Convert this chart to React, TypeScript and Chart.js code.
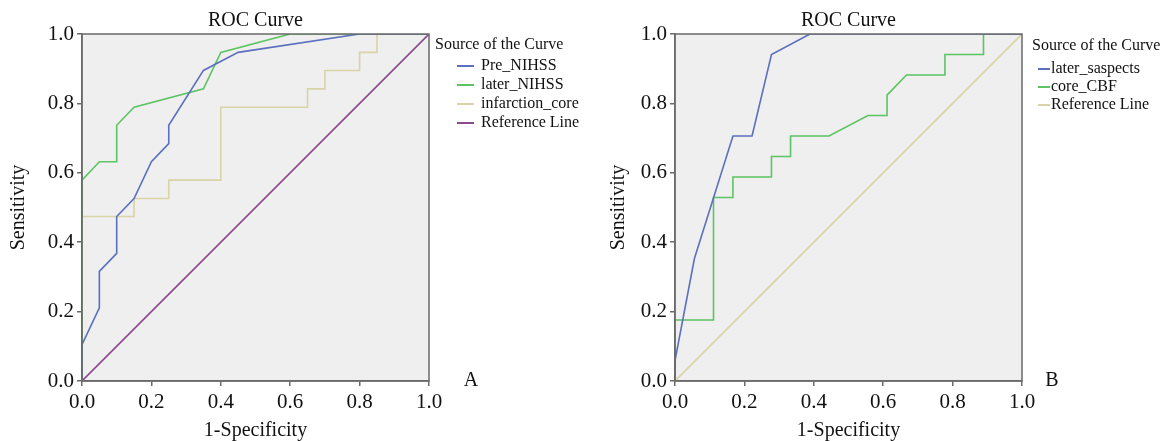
import React, { useEffect, useRef } from "react";
import { Chart, registerables } from "chart.js";

Chart.register(...registerables);

// ---------- Data: panel A ----------
const preNihssX = [0, 0, 0.05, 0.05, 0.1, 0.1, 0.15, 0.2, 0.25, 0.25, 0.35, 0.45, 0.8, 1.0];
const preNihssY = [0, 0.105, 0.211, 0.316, 0.368, 0.474, 0.526, 0.632, 0.684, 0.737, 0.895, 0.947, 1.0, 1.0];

const laterNihssX = [0, 0, 0.05, 0.1, 0.1, 0.15, 0.35, 0.4, 0.6, 1.0];
const laterNihssY = [0, 0.579, 0.632, 0.632, 0.737, 0.789, 0.842, 0.947, 1.0, 1.0];

const infarctionCoreX = [0, 0, 0.15, 0.15, 0.25, 0.25, 0.4, 0.4, 0.65, 0.65, 0.7, 0.7, 0.8, 0.8, 0.85, 0.85, 1.0];
const infarctionCoreY = [0, 0.474, 0.474, 0.526, 0.526, 0.579, 0.579, 0.789, 0.789, 0.842, 0.842, 0.895, 0.895, 0.947, 0.947, 1.0, 1.0];

// ---------- Data: panel B ----------
const laterSaspectsX = [0, 0, 0.056, 0.167, 0.222, 0.278, 0.389, 1.0];
const laterSaspectsY = [0, 0.059, 0.353, 0.706, 0.706, 0.941, 1.0, 1.0];

const coreCbfX = [0, 0, 0.111, 0.111, 0.167, 0.167, 0.278, 0.278, 0.333, 0.333, 0.444, 0.556, 0.611, 0.611, 0.667, 0.778, 0.778, 0.889, 0.889, 1.0];
const coreCbfY = [0, 0.176, 0.176, 0.529, 0.529, 0.588, 0.588, 0.647, 0.647, 0.706, 0.706, 0.765, 0.765, 0.824, 0.882, 0.882, 0.941, 0.941, 1.0, 1.0];

const referenceX = [0, 1];
const referenceY = [0, 1];

const tickValues = [0, 0.2, 0.4, 0.6, 0.8, 1.0];

const panelALabels = ["Pre_NIHSS", "later_NIHSS", "infarction_core", "Reference Line"];
const panelBLabels = ["later_saspects", "core_CBF", "Reference Line"];

const BLUE = "#5b70be";
const GREEN = "#5cc462";
const BEIGE = "#d8d4a6";
const PURPLE = "#8b4a8c";

const SERIF = "'Liberation Serif', 'Times New Roman', serif";

function pts(xs: number[], ys: number[]) {
  return xs.map((x, i) => ({ x, y: ys[i] }));
}

type PanelSpec = {
  datasets: { label: string; xs: number[]; ys: number[]; color: string }[];
  letter: string;
  letterX: number;
  yAxisLeft: number;
  yTitlePad: number;
  rightPad: number;
  legendX: number;
  legendLineX0: number;
  legendLineX1: number;
  legendTextX: number;
  legendTitleY: number;
  legendRowY: number[];
};

const decorPlugin = {
  id: "decor",
  beforeDraw(chart: any) {
    const { ctx, chartArea } = chart;
    ctx.save();
    ctx.fillStyle = "#efefef";
    ctx.fillRect(chartArea.left, chartArea.top, chartArea.right - chartArea.left, chartArea.bottom - chartArea.top);
    ctx.restore();
  },
  afterDraw(chart: any) {
    const { ctx, chartArea } = chart;
    const spec: PanelSpec = chart.options.plugins.decor.spec;
    ctx.save();
    // frame
    ctx.strokeStyle = "#6a6a6a";
    ctx.lineWidth = 1.5;
    ctx.strokeRect(chartArea.left, chartArea.top, chartArea.right - chartArea.left, chartArea.bottom - chartArea.top);
    // title
    ctx.fillStyle = "#111";
    ctx.font = `20px ${SERIF}`;
    ctx.textAlign = "center";
    ctx.textBaseline = "middle";
    ctx.fillText("ROC Curve", (chartArea.left + chartArea.right) / 2, 21);
    // panel letter
    ctx.fillText(spec.letter, spec.letterX, 381);
    // legend
    ctx.font = `16px ${SERIF}`;
    ctx.textAlign = "left";
    ctx.fillText("Source of the Curve", spec.legendX, spec.legendTitleY);
    spec.datasets.forEach((d, i) => {
      const y = spec.legendRowY[i];
      ctx.strokeStyle = d.color;
      ctx.lineWidth = 2;
      ctx.beginPath();
      ctx.moveTo(spec.legendLineX0, y);
      ctx.lineTo(spec.legendLineX1, y);
      ctx.stroke();
      ctx.fillStyle = "#111";
      ctx.fillText(d.label, spec.legendTextX, y);
    });
    ctx.restore();
  },
};

function makeScale(title: string, isY: boolean, spec: PanelSpec) {
  return {
    type: "linear",
    min: 0,
    max: 1,
    position: isY ? "left" : "bottom",
    afterBuildTicks(scale: any) {
      scale.ticks = tickValues.map((v) => ({ value: v }));
    },
    afterFit(scale: any) {
      if (isY) scale.width = spec.yAxisLeft;
      else scale.height = 60;
    },
    ticks: {
      color: "#111",
      font: { family: SERIF, size: 21 },
      padding: isY ? 3 : 4,
      callback: (v: number) => Number(v).toFixed(1),
      maxRotation: 0,
      autoSkip: false,
    },
    grid: {
      display: true,
      drawOnChartArea: false,
      drawTicks: true,
      tickLength: 5,
      color: "#6a6a6a",
      lineWidth: 1.5,
    },
    border: { display: true, color: "#6a6a6a", width: 1.5 },
    title: {
      display: true,
      text: title,
      color: "#111",
      font: { family: SERIF, size: 20 },
      padding: isY ? { top: spec.yTitlePad, bottom: 0 } : { top: 0, bottom: -2 },
    },
  };
}

function Panel({ spec, left }: { spec: PanelSpec; left: number }) {
  const ref = useRef<HTMLCanvasElement | null>(null);
  useEffect(() => {
    if (!ref.current) return;
    const chart = new Chart(ref.current, {
      type: "scatter",
      data: {
        datasets: spec.datasets.map((d) => ({
          label: d.label,
          data: pts(d.xs, d.ys),
          showLine: true,
          borderColor: d.color,
          backgroundColor: d.color,
          borderWidth: 1.6,
          pointRadius: 0,
          tension: 0,
          fill: false,
        })),
      },
      options: {
        responsive: false,
        animation: false,
        layout: { padding: { top: 34, right: spec.rightPad, bottom: 0, left: 0 } },
        plugins: {
          legend: { display: false },
          tooltip: { enabled: false },
          title: { display: false },
          decor: { spec },
        } as any,
        scales: {
          x: makeScale("1-Specificity", false, spec),
          y: makeScale("Sensitivity", true, spec),
        } as any,
      },
      plugins: [decorPlugin],
    });
    return () => chart.destroy();
  }, [spec]);
  return (
    <canvas
      ref={ref}
      width={584}
      height={441}
      style={{ position: "absolute", left, top: 0, width: 584, height: 441 }}
    />
  );
}

const specA: PanelSpec = {
  datasets: [
    { label: panelALabels[0], xs: preNihssX, ys: preNihssY, color: BLUE },
    { label: panelALabels[1], xs: laterNihssX, ys: laterNihssY, color: GREEN },
    { label: panelALabels[2], xs: infarctionCoreX, ys: infarctionCoreY, color: BEIGE },
    { label: panelALabels[3], xs: referenceX, ys: referenceY, color: PURPLE },
  ],
  letter: "A",
  letterX: 471,
  yAxisLeft: 82,
  yTitlePad: 7,
  rightPad: 155,
  legendX: 435,
  legendLineX0: 457,
  legendLineX1: 474,
  legendTextX: 481,
  legendTitleY: 45,
  legendRowY: [66, 85, 104, 123],
};

const specB: PanelSpec = {
  datasets: [
    { label: panelBLabels[0], xs: laterSaspectsX, ys: laterSaspectsY, color: BLUE },
    { label: panelBLabels[1], xs: coreCbfX, ys: coreCbfY, color: GREEN },
    { label: panelBLabels[2], xs: referenceX, ys: referenceY, color: BEIGE },
  ],
  letter: "B",
  letterX: 468,
  yAxisLeft: 91,
  yTitlePad: 23,
  rightPad: 146,
  legendX: 448,
  legendLineX0: 454,
  legendLineX1: 466,
  legendTextX: 467,
  legendTitleY: 46,
  legendRowY: [69, 87, 105],
};

export default function App() {
  return (
    <div style={{ position: "absolute", left: 0, top: 0, width: 1168, height: 441, background: "#fff" }}>
      <Panel spec={specA} left={0} />
      <Panel spec={specB} left={584} />
    </div>
  );
}
